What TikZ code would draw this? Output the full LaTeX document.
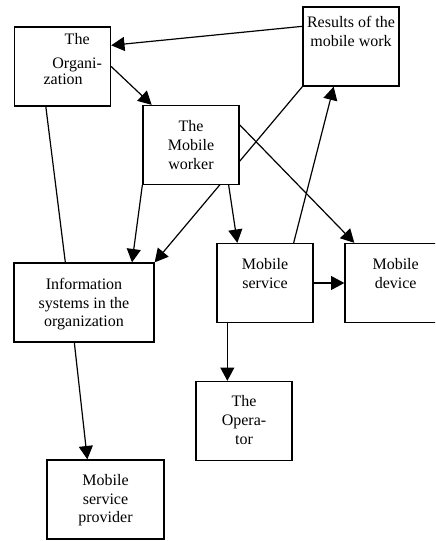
\documentclass[tikz,border=0pt]{standalone}
\usepackage{fontspec}
\setmainfont{Liberation Serif}
\usetikzlibrary{positioning,arrows.meta,backgrounds}
\tikzset{>={Triangle[length=10pt,width=10.5pt]}}
\tikzset{
  box/.style={draw, line width=1pt, fill=white, inner sep=0pt,
    minimum width=72pt, minimum height=59.25pt},
  txt/.style={align=center, anchor=north, inner sep=0pt,
    font=\fontsize{12}{14}\selectfont},
  link/.style={line width=.9pt}
}

\begin{document}
\begin{tikzpicture}[x=.75pt,y=-.75pt]
\useasboundingbox (0,0) rectangle (435,541);
\clip (0,0) rectangle (435,541);
% the boxes
\node[box] (org) at (62.5,66.5)
  {}; \node[txt,xshift=11pt,yshift=-4.9pt] (orgtxt) at (org.north) {The\\[4pt]Organi-\\[-2pt]zation\hspace*{21pt}};
\node[box] (res) at (351,46.5)
  {}; \node[txt,yshift=-7.2pt] (restxt) at (res.north) {Results of the\\mobile work};
\node[box] (worker) at (191,145)
  {}; \node[txt,yshift=-11.7pt] (workertxt) at (worker.north) {The\\Mobile\\worker};
\node[box,minimum width=105pt] (info) at (84,302.5)
  {}; \node[txt,yshift=-11.7pt] (infotxt) at (info.north) {Information\\systems in the\\organization};
\node[box] (service) at (265,283)
  {}; \node[txt,yshift=-11.7pt] (servicetxt) at (service.north) {Mobile\\service};
\node[box] (device) at (393,283)
  {}; \node[txt,xshift=2pt,yshift=-11.7pt] (devicetxt) at (device.north) {Mobile\\device};
\node[box] (operator) at (244,421)
  {}; \node[txt,yshift=-11pt] (operatortxt) at (operator.north) {The\\Opera-\\tor};
\node[box,minimum width=87.75pt] (provider) at (105.5,499.5)
  {}; \node[txt,yshift=-11pt] (providertxt) at (provider.north) {Mobile\\service\\provider};

% the links, behind the boxes
\begin{pgfonlayer}{background}
\draw[link,->] ([yshift=-15pt]res.north west) -- ([yshift=-14.25pt]org.north east);
\draw[link,->] (org.east) -- ([xshift=7pt]worker.north west);
\draw[link] ([xshift=24pt]org.south west) -- ([xshift=39pt]info.north west);
\draw[link,->] (worker.south west) -- ([xshift=89pt]info.north west);
\draw[link,->] (res.south west) -- (info.north east);
\draw[link,->] ([xshift=-8.25pt]worker.south east) -- ([xshift=15.75pt]service.north west);
\draw[link,->] ([yshift=-15pt]worker.north east) -- ([xshift=7.5pt]device.north west);
\draw[link,->] ([xshift=-15pt]service.north east) -- ([xshift=-13pt]res.south);
\draw[link,->] (service.east) -- (device.west);
\draw[link,->] ([xshift=8.25pt]service.south west) -- ([xshift=8.25pt]service.south west |- operator.north);
\draw[link,->] ([xshift=45.75pt]info.south west) -- ([xshift=30.75pt]provider.north west);
\end{pgfonlayer}
\end{tikzpicture}
\end{document}
